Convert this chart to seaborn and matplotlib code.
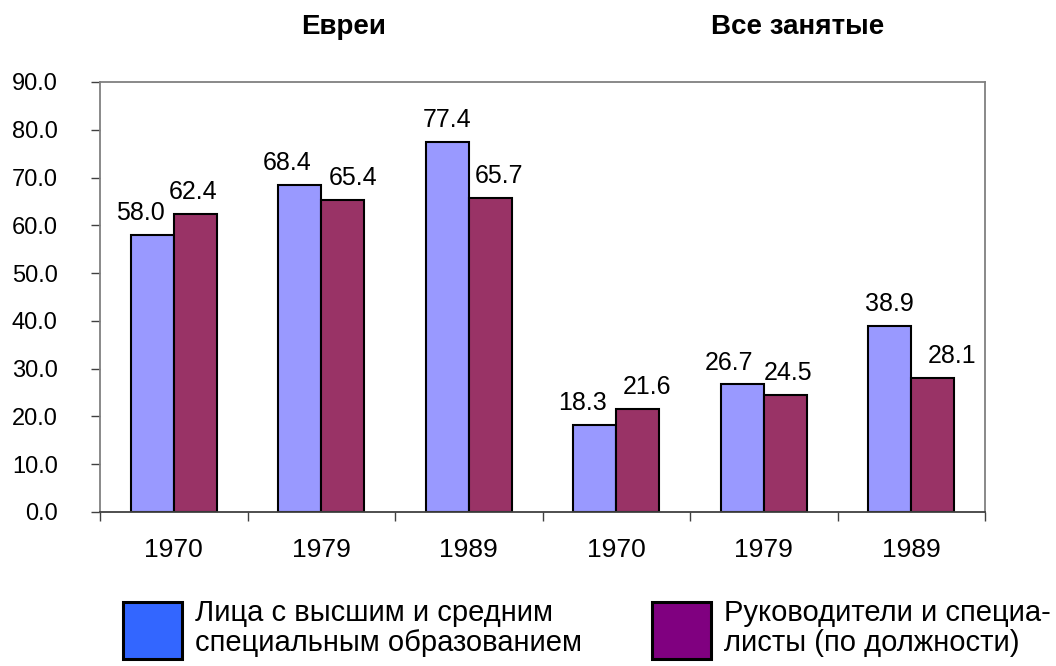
import matplotlib
matplotlib.use("Agg")
import matplotlib.pyplot as plt
from matplotlib.patches import Patch
import seaborn as sns
import numpy as np
import pandas as pd

groups = ["Евреи 1970", "Евреи 1979", "Евреи 1989", "Все 1970", "Все 1979", "Все 1989"]
year_labels = ["1970", "1979", "1989", "1970", "1979", "1989"]
series_names = ["Лица с высшим и средним\nспециальным образованием",
                "Руководители и специа-\nлисты (по должности)"]
education = [58.0, 68.4, 77.4, 18.3, 26.7, 38.9]
managers = [62.4, 65.4, 65.7, 21.6, 24.5, 28.1]
section_titles = ["Евреи", "Все занятые"]

bar_colors = ["#9999FF", "#993366"]
legend_colors = ["#3366FF", "#800080"]

# horizontal nudges of the value labels (pixels), Excel-style overlap avoidance
label_shift = [[-12, -13, 0, -12, -13, 0],
               [-2, 10, 9, 9, 3, 19]]

df = pd.DataFrame({
    "group": groups * 2,
    "series": [series_names[0]] * 6 + [series_names[1]] * 6,
    "value": education + managers,
})

sns.set_style("white")
plt.rcParams["font.family"] = ["Liberation Sans", "DejaVu Sans"]
plt.rcParams["text.color"] = "black"
plt.rcParams["xtick.color"] = "black"
plt.rcParams["ytick.color"] = "black"

fig = plt.figure(figsize=(10.56, 6.66), dpi=100)
ax = fig.add_axes([100 / 1056, 1 - 512 / 666, 885 / 1056, 430 / 666])

sns.barplot(data=df, x="group", y="value", hue="series", order=groups,
            hue_order=series_names, palette=bar_colors, width=0.58,
            edgecolor="black", linewidth=1.5, saturation=1, legend=False, ax=ax)

for k, cont in enumerate(ax.containers):
    anns = ax.bar_label(cont, fmt="%.1f", padding=7, fontsize=18, color="black")
    for a, dx in zip(anns, label_shift[k]):
        a.xyann = (dx * 0.72, 7)

ax.set_ylim(0, 90)
ax.set_xlim(-0.5, 5.5)
ax.set_yticks(np.arange(0, 91, 10))
ax.set_yticklabels([f"{v:.1f}" for v in np.arange(0, 91, 10)], fontsize=17)
ax.set_xticks(range(6))
ax.set_xticklabels(year_labels, fontsize=19)
ax.set_xticks(np.arange(-0.5, 6, 1), minor=True)
ax.tick_params(axis="x", which="major", length=0, pad=19)
ax.tick_params(axis="x", which="minor", length=6.5, width=1, color="#404040", direction="out", bottom=True)
ax.tick_params(axis="y", length=6.5, width=1, color="#404040", direction="out", left=True, pad=24)
ax.set_xlabel("")
ax.set_ylabel("")
for s in ax.spines.values():
    s.set_visible(True)
    s.set_color("#808080")
    s.set_linewidth(1.3)
ax.spines["bottom"].set_color("#404040")

fig.text(344 / 1056, 1 - 27 / 666, section_titles[0], ha="center", va="center",
         fontsize=20, fontweight="bold")
fig.text(798 / 1056, 1 - 27 / 666, section_titles[1], ha="center", va="center",
         fontsize=20, fontweight="bold")

for i, x0 in enumerate([123, 652]):
    h = Patch(facecolor=legend_colors[i], edgecolor="black", linewidth=2.2)
    leg = fig.legend(handles=[h], labels=[series_names[i]], loc="upper left",
                     bbox_to_anchor=(x0 / 1056, 1 - 599 / 666), frameon=False,
                     fontsize=21, handlelength=2.02, handleheight=2.65, borderpad=0,
                     borderaxespad=0, handletextpad=0.45, labelspacing=0)
    for t in leg.get_texts():
        t.set_linespacing(1.1)

fig.savefig("out.png", dpi=100)
